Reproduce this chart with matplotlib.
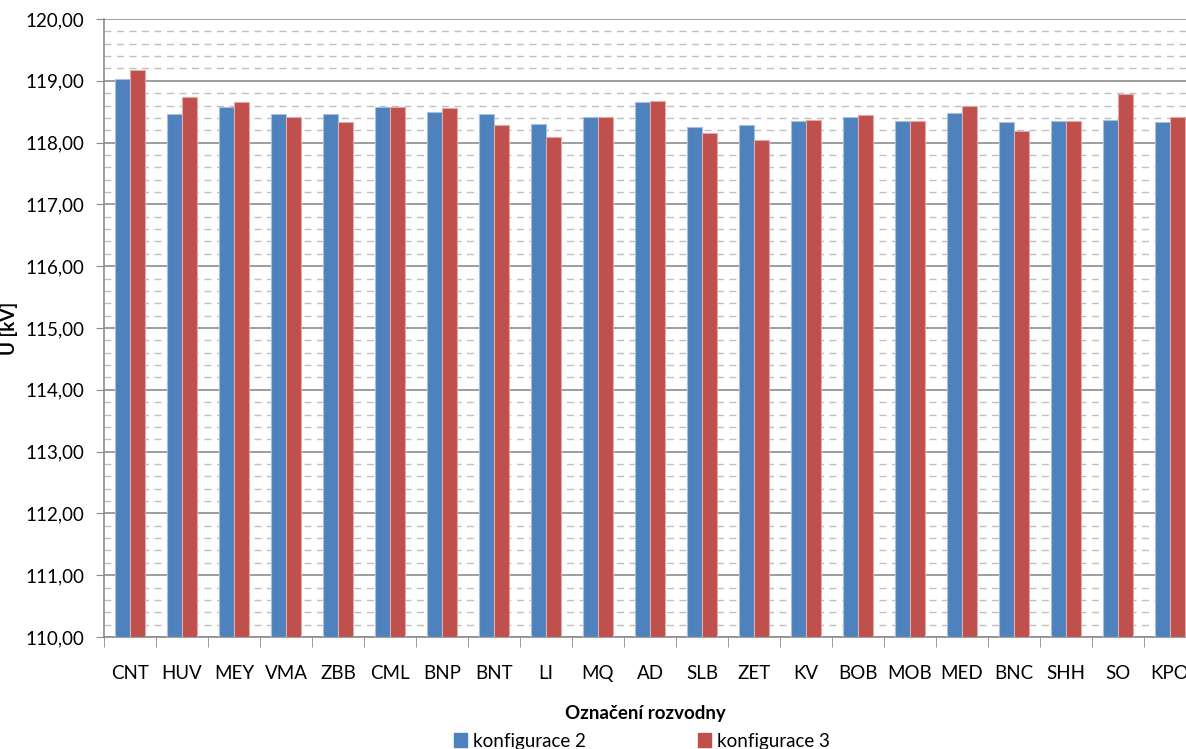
import matplotlib.pyplot as plt
import numpy as np
from matplotlib.ticker import MultipleLocator, FuncFormatter
from matplotlib.patches import Patch

plt.rcParams['font.family'] = ['Lato', 'DejaVu Sans']

# data
stations = ['CNT', 'HUV', 'MEY', 'VMA', 'ZBB', 'CML', 'BNP', 'BNT', 'LI', 'MQ', 'AD',
            'SLB', 'ZET', 'KV', 'BOB', 'MOB', 'MED', 'BNC', 'SHH', 'SO', 'KPO']
konf2 = [119.03, 118.46, 118.58, 118.46, 118.46, 118.58, 118.50, 118.46, 118.30, 118.41, 118.66,
         118.25, 118.29, 118.35, 118.42, 118.35, 118.48, 118.33, 118.35, 118.36, 118.33]
konf3 = [119.18, 118.73, 118.66, 118.42, 118.33, 118.58, 118.56, 118.28, 118.09, 118.42, 118.68,
         118.15, 118.05, 118.36, 118.44, 118.35, 118.60, 118.19, 118.35, 118.78, 118.42]

blue = '#4F81BD'
red = '#C0504D'

fig = plt.figure(figsize=(11.86, 7.49), dpi=100)
# plot area runs past the right edge, like the cropped original
ax = fig.add_axes([104 / 1186, 1 - 637 / 749, 1092 / 1186, 618 / 749])

x = np.arange(len(stations))
w = 0.285
base = 110
ax.bar(x - w / 2, np.array(konf2) - base, w, bottom=base, color=blue,
       edgecolor='#A7C0DE', linewidth=0.8, zorder=3)
ax.bar(x + w / 2, np.array(konf3) - base, w, bottom=base, color=red,
       edgecolor='#E3A9A7', linewidth=0.8, zorder=3)

ax.set_ylim(110, 120)
ax.set_xlim(-0.5, len(stations) - 0.5)
ax.yaxis.set_major_locator(MultipleLocator(1))
ax.yaxis.set_minor_locator(MultipleLocator(0.2))
ax.yaxis.set_major_formatter(FuncFormatter(lambda v, p: f'{v:.2f}'.replace('.', ',')))
ax.grid(axis='y', which='major', color='#8C8C8C', linewidth=1.2, zorder=0)
ax.grid(axis='y', which='minor', color='#BFBFBF', linewidth=1.0, linestyle=(0, (5, 4)), zorder=0)

ax.set_xticks(x)
ax.set_xticklabels(stations)
ax.set_xticks(np.arange(len(stations) + 1) - 0.5, minor=True)
ax.tick_params(axis='x', which='major', length=0, pad=20, labelsize=13.5)
ax.tick_params(axis='x', which='minor', length=7, color='#8C8C8C')
ax.tick_params(axis='y', which='major', length=6, color='#8C8C8C', labelsize=13.5, pad=8)
ax.tick_params(axis='y', which='minor', length=0)

for s in ['top', 'right']:
    ax.spines[s].set_visible(False)
for s in ['left', 'bottom']:
    ax.spines[s].set_color('#8C8C8C')
    ax.spines[s].set_linewidth(1.2)

ax.set_ylabel('U [kV]', fontsize=13.5, fontweight='bold')
ax.yaxis.set_label_coords((18 - 104) / 1092, 0.5)
fig.text(645 / 1186, 1 - 713 / 749, 'Označení rozvodny', fontsize=13.5, fontweight='bold',
         ha='center', va='center')

handles = [Patch(color=blue), Patch(color=red)]
fig.legend(handles, ['konfigurace 2', 'konfigurace 3'], loc='center',
           bbox_to_anchor=(642 / 1186, 1 - 741 / 749), ncol=2, frameon=False,
           fontsize=13.5, handlelength=0.7, handleheight=0.7, handletextpad=0.3,
           columnspacing=6)

fig.savefig('out.png', dpi=100)
